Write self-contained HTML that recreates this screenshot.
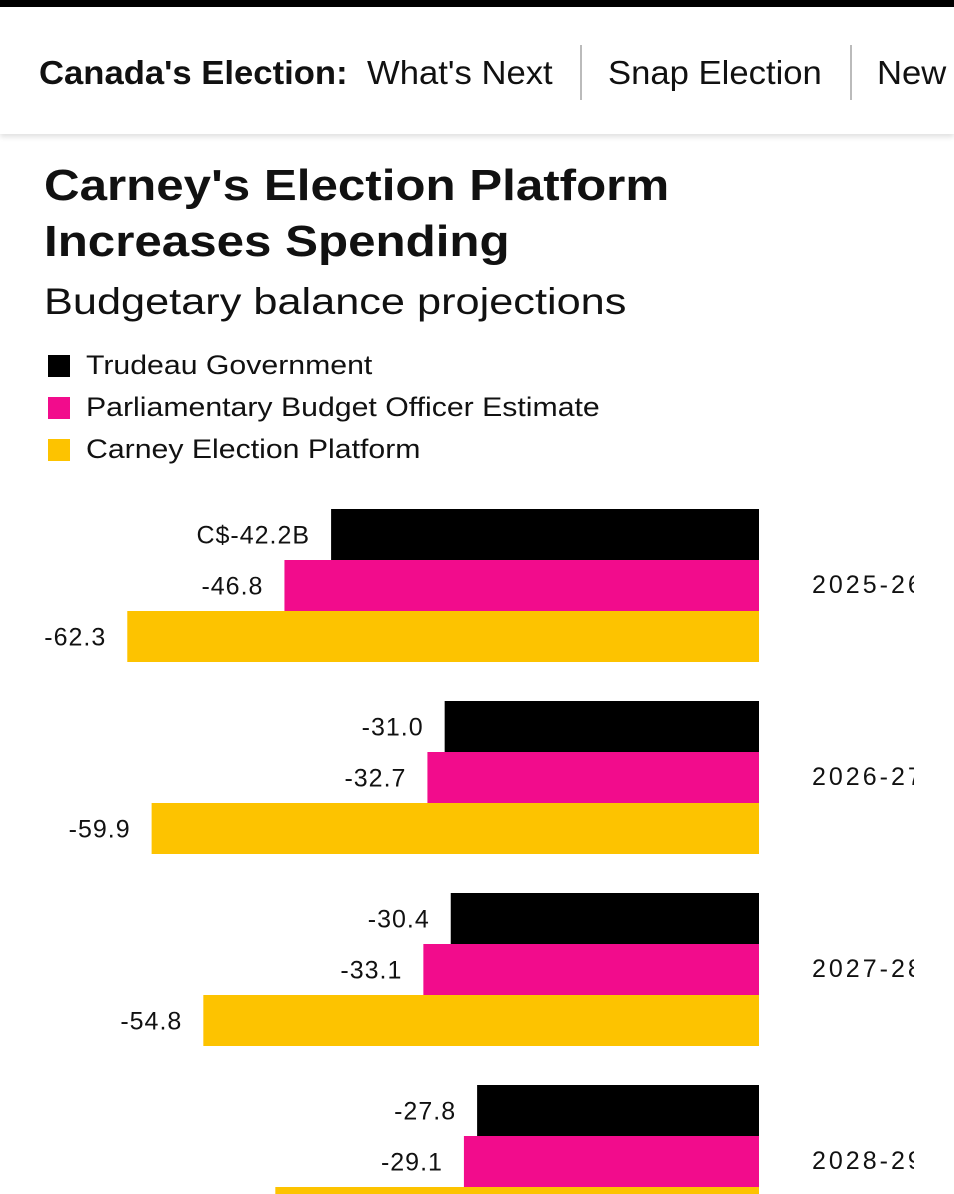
<!DOCTYPE html>
<html><head><meta charset="utf-8">
<style>
body{margin:0;width:954px;height:1194px;overflow:hidden;background:#fff;font-family:"Liberation Sans",sans-serif;color:#111;position:relative}
.topbar{position:absolute;left:0;top:0;width:954px;height:7px;background:#000}
.nav{position:absolute;left:0;top:7px;width:954px;height:127px;background:#fff;box-shadow:0 3px 5px rgba(0,0,0,0.12);overflow:hidden}
.nav span{position:absolute;top:47px;font-size:33px;white-space:nowrap;transform:scaleX(1.05);transform-origin:left}
.sep{position:absolute;top:38px;width:2px;height:55px;background:#bbb}
.title{position:absolute;left:44px;top:158px;font-size:44px;font-weight:bold;line-height:56px;transform:scaleX(1.12);transform-origin:left;white-space:nowrap}
.sub{position:absolute;left:44px;top:281px;font-size:37px;transform:scaleX(1.17);transform-origin:left;white-space:nowrap}
.leg{position:absolute;left:48px;font-size:27px;white-space:nowrap}
.leg i{display:inline-block;width:22px;height:22px;vertical-align:-3px;margin-right:16px}
.leg b{font-weight:normal;display:inline-block;transform:scaleX(1.12);transform-origin:left}
#chart{position:absolute;left:0;top:0}
.yr{position:absolute;left:812px;width:102px;overflow:hidden;white-space:nowrap;font-size:25px;letter-spacing:3px}
</style></head><body>
<div class="topbar"></div>
<div class="nav">
<span style="left:39px;font-weight:bold">Canada's Election:</span>
<span style="left:367px">What's Next</span>
<div class="sep" style="left:580px"></div>
<span style="left:608px">Snap Election</span>
<div class="sep" style="left:850px"></div>
<span style="left:877px">New</span>
</div>
<div class="title">Carney's Election Platform<br>Increases Spending</div>
<div class="sub">Budgetary balance projections</div>
<div class="leg" style="top:350px"><i style="background:#000"></i><b>Trudeau Government</b></div>
<div class="leg" style="top:392px"><i style="background:#f20c8c"></i><b>Parliamentary Budget Officer Estimate</b></div>
<div class="leg" style="top:434px"><i style="background:#fdc300"></i><b>Carney Election Platform</b></div>
<svg id="chart" width="954" height="1194"></svg>
<script>
const years=["2025-26","2026-27","2027-28","2028-29"];
const trudeau=[-42.2,-31.0,-30.4,-27.8];
const pbo=[-46.8,-32.7,-33.1,-29.1];
const carney=[-62.3,-59.9,-54.8,-47.7];
const series=[trudeau,pbo,carney];
const colors=["#000","#f20c8c","#fdc300"];
const names=["trudeau","pbo","carney"];
const NS="http://www.w3.org/2000/svg";
const svg=document.getElementById("chart");
const x0=759,scale=10.14;
function xs(v){return x0+v*scale;}
function yg(g){return 509+g*192;}
const bh=51;
function mk(t,a){const e=document.createElementNS(NS,t);for(const k in a)e.setAttribute(k,a[k]);svg.appendChild(e);return e;}
years.forEach((yr,g)=>{
  series.forEach((s,k)=>{
    const v=s[g];const y=yg(g)+k*bh;
    const r=mk("rect",{x:xs(v),y:y,width:x0-xs(v),height:bh,fill:colors[k]});
    
    
    const lbl=(g===0&&k===0?"C$":"")+v.toFixed(1)+(g===0&&k===0?"B":"");
    const t=mk("text",{x:xs(v)-21,y:y+bh/2+9,"text-anchor":"end","font-size":"25","letter-spacing":"1","font-family":"Liberation Sans, sans-serif",fill:"#111"});
    t.textContent=lbl;
    
    
  });
  const yl=document.createElement("div");
  yl.className="yr";
  yl.style.top=(yg(g)+bh*1.5-15)+"px";
  yl.textContent=yr;
  
  
  document.body.appendChild(yl);
});
</script>
</body></html>
